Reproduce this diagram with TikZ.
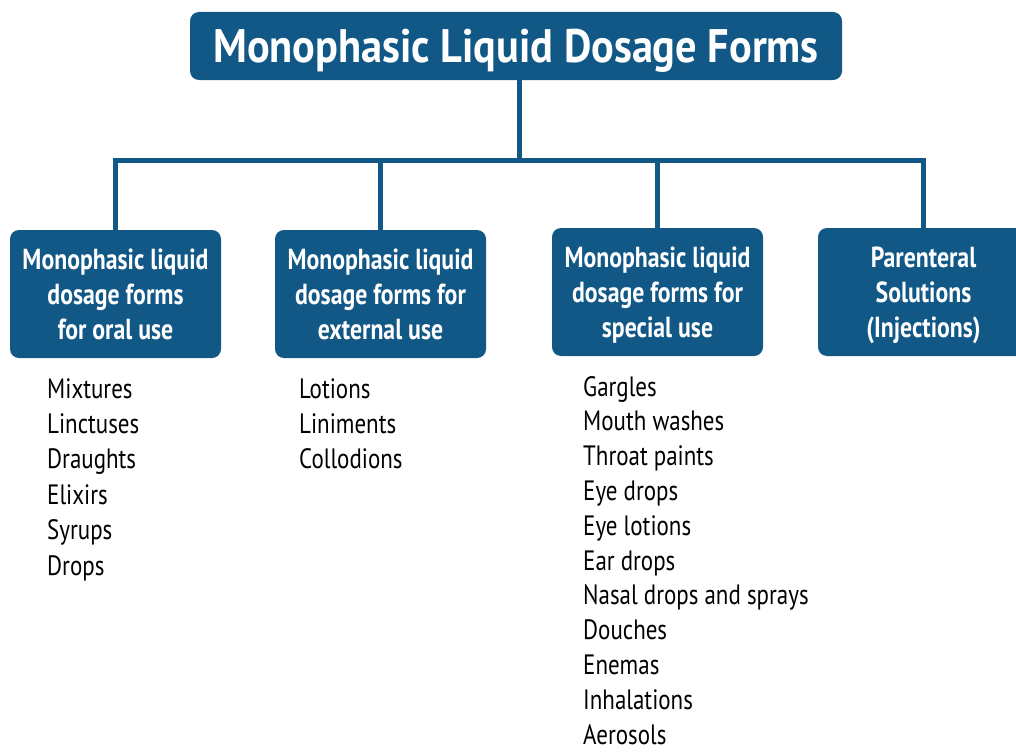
\documentclass[tikz,border=0pt]{standalone}
\usepackage{fontspec}
\setmainfont{PT Sans}
\newfontfamily\condfont[FakeStretch=0.82]{PT Sans}
\newfontfamily\headfont[FakeStretch=0.9]{PT Sans}
\definecolor{boxblue}{RGB}{17,88,134}
\begin{document}
\begin{tikzpicture}[x=1pt,y=-1pt,
  headbox/.style={fill=boxblue, rounded corners=9pt, text=white,
    font=\headfont\bfseries\fontsize{47}{50}\selectfont, inner sep=0pt,
    text depth=0pt, minimum width=652, minimum height=68},
  catbox/.style={fill=boxblue, rounded corners=9pt, text=white,
    font=\condfont\bfseries\fontsize{29}{35}\selectfont, inner sep=0pt,
    text depth=0pt, minimum width=211, minimum height=128, align=center},
  listitem/.style={anchor=base west, inner sep=0pt,
    font=\condfont\fontsize{28}{34}\selectfont},
  link/.style={draw=boxblue, line width=5pt}]
\useasboundingbox (0,0) rectangle (1016,752);
\clip (0,0) rectangle (1016,752);

% top heading
\node[headbox] (head) at (516,46) {Monophasic Liquid Dosage Forms};

% four categories
\node[catbox] (oral) at (115.5,294) {Monophasic liquid\\dosage forms\\for oral use};
\node[catbox] (ext) at (380.5,294) {Monophasic liquid\\dosage forms for\\external use};
\node[catbox] (spec) at (657.5,292) {Monophasic liquid\\dosage forms for\\special use};
\node[catbox] (par) at (923.5,292) {Parenteral\\Solutions\\(Injections)};

% branching connectors
\coordinate (bus) at (519,160);
\draw[link] (head.south -| bus) -- (bus);
\draw[link] ([xshift=-2.5pt]oral.north |- bus) -- ([xshift=2.5pt]par.north |- bus);
\foreach \n in {oral,ext,spec,par}
  \draw[link] (\n.north |- bus) -- (\n.north);

% item lists
\foreach \t [count=\i] in {Mixtures,Linctuses,Draughts,Elixirs,Syrups,Drops}
  \node[listitem] (oral-\i) at (47,{398+35.4*(\i-1)}) {\t};
\foreach \t [count=\i] in {Lotions,Liniments,Collodions}
  \node[listitem] (ext-\i) at (299,{398+35.4*(\i-1)}) {\t};
\foreach \t [count=\i] in {Gargles,Mouth washes,Throat paints,Eye drops,Eye lotions,Ear drops,Nasal drops and sprays,Douches,Enemas,Inhalations,Aerosols}
  \node[listitem] (spec-\i) at (583,{396+34.8*(\i-1)}) {\t};
\end{tikzpicture}
\end{document}
